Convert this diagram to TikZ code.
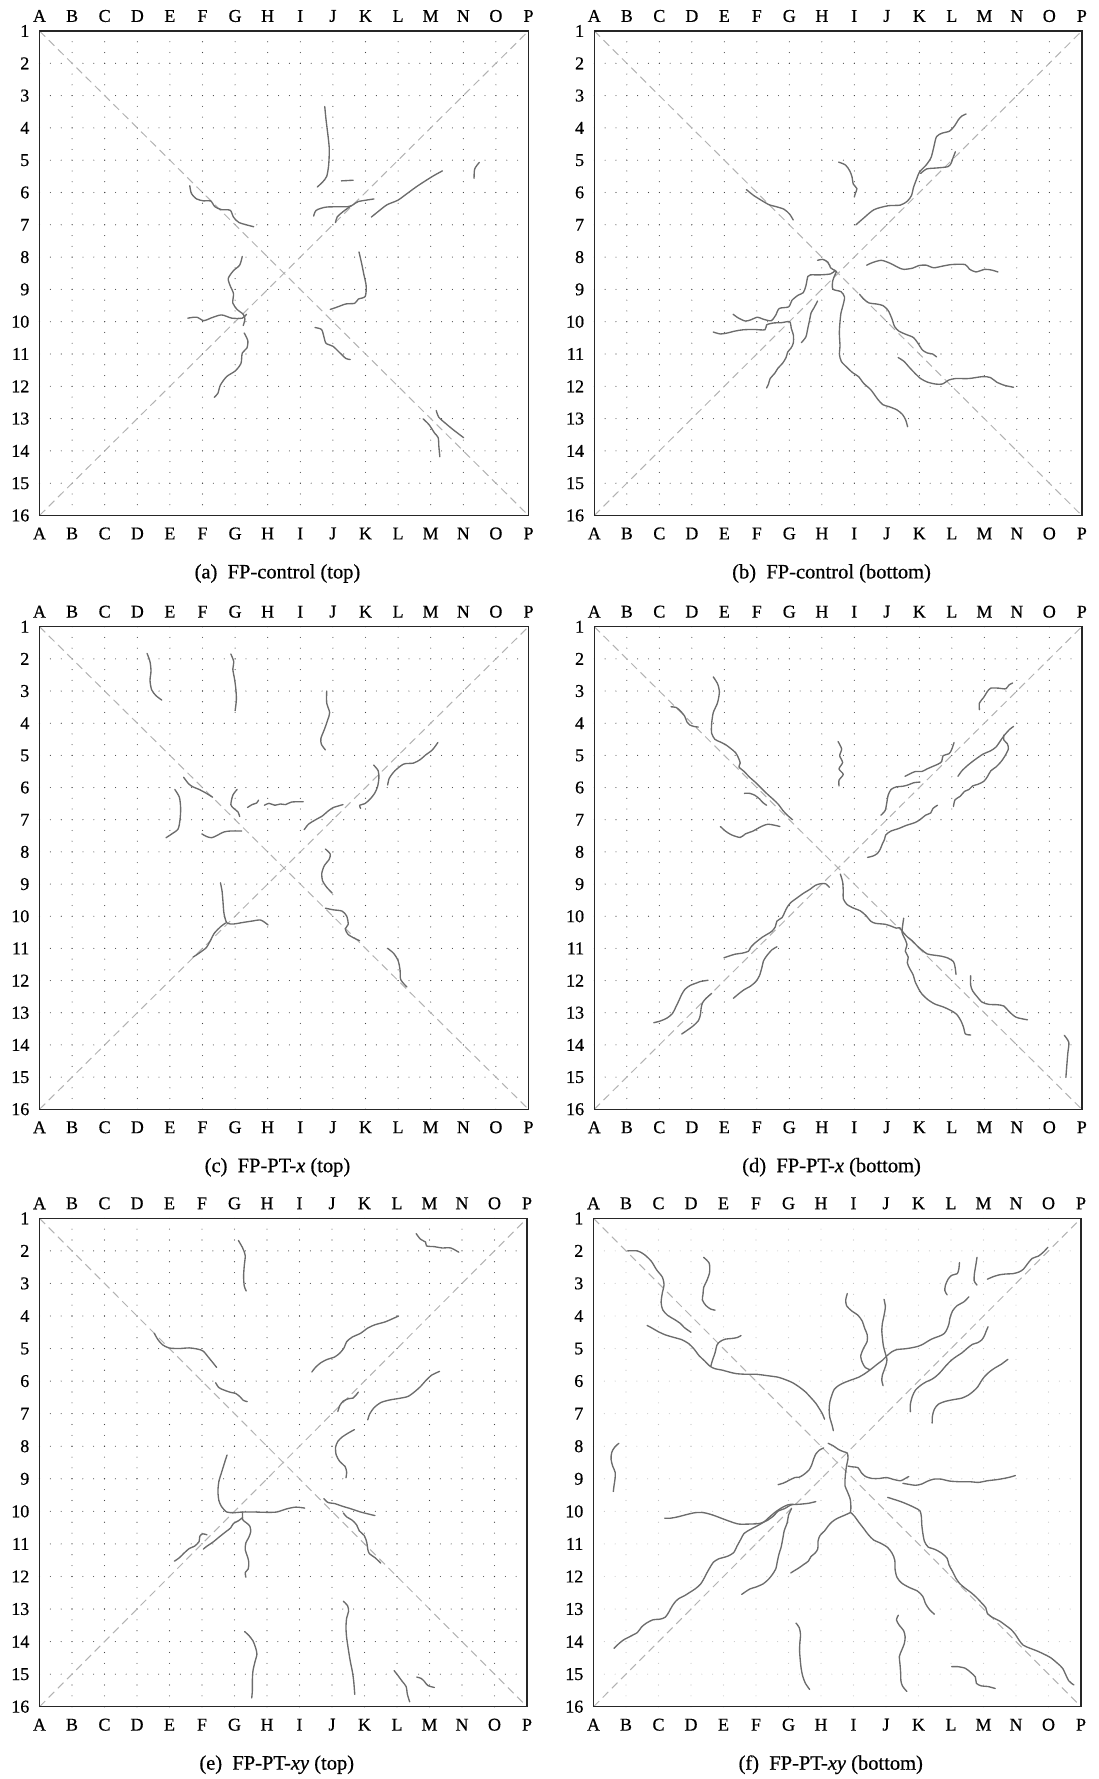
\documentclass[tikz,border=0pt]{standalone}
\usepackage{fontspec}
\setmainfont{Liberation Serif}[FakeBold=0.6]
\newfontfamily\labfont{Liberation Serif}[FakeBold=0.6]
\definecolor{crackc}{RGB}{108,108,108}
\definecolor{diagc}{RGB}{178,178,178}
\definecolor{dotc}{RGB}{70,70,70}
\definecolor{dotlight}{RGB}{195,195,195}
\tikzset{
  crack/.style={draw=crackc, line width=1.35pt, line cap=round, line join=round},
  diagline/.style={draw=diagc, line width=1pt, dash pattern=on 8pt off 5pt},
  boxline/.style={draw=black!85, line width=1.5pt},
  lab/.style={inner sep=0pt, font=\labfont\fontsize{18}{20}\selectfont},
  capt/.style={inner sep=0pt, font=\labfont\fontsize{20.5}{23}\selectfont},
}
\newcommand{\crk}[1]{\draw[crack] plot[smooth, tension=0.45] coordinates {#1};}
\newcommand{\panelbase}[4]{%
  \foreach \r in {2,...,15}{\draw[#3, line width=1.1pt, line cap=round, dash pattern=on 0pt off #1pt] (0,\r) -- (15,\r);}
  \foreach \c in {1,...,14}{\draw[#3, line width=1.1pt, line cap=round, dash pattern=on 0pt off #2pt] (\c,1) -- (\c,16);}
  \draw[diagline] (0,1) -- (15,16);
  \draw[diagline] (0,16) -- (15,1);
  \draw[boxline] (0,1) rectangle (15,16);
  \foreach \L [count=\i from 0] in {A,...,P}{
    \node[lab, yshift=15pt] at (\i,1) {\L};
    \node[lab, yshift=-18pt] at (\i,16) {\L};
  }
  \foreach \r in {1,...,16}{\node[lab, anchor=east, xshift=-10pt] at (0,\r) {\r};}
  \node[capt, yshift=-58pt] at (7.3,16) {#4};
}
\begin{document}
\begin{tikzpicture}
\useasboundingbox (0pt,0pt) rectangle (1099pt,-1779pt);

% (a)
\begin{scope}[shift={(39.5pt,1.3pt)}, x={(32.6pt,0pt)}, y={(0pt,-32.3pt)}]
\panelbase{10.8667}{10.7667}{dotc}{(a)~~FP-control (top)}
\crk{(8.75,3.34) (8.79,3.75) (8.86,4.33) (8.89,4.68) (8.87,5.15) (8.81,5.5) (8.68,5.68) (8.52,5.83)}
\crk{(9.26,5.64) (9.62,5.62)}
\crk{(13.49,5.07) (13.35,5.27) (13.33,5.56)}
\crk{(4.61,5.79) (4.66,6.03) (4.82,6.2) (5.04,6.26) (5.25,6.26) (5.38,6.44) (5.58,6.53) (5.85,6.55) (5.95,6.76) (6.12,6.93) (6.57,7.06)}
\crk{(8.41,6.73) (8.49,6.55) (8.81,6.45) (9.45,6.44) (9.62,6.38) (9.78,6.28) (10.26,6.2)}
\crk{(9.56,6.41) (9.29,6.61) (9.13,6.76) (9.08,6.93)}
\crk{(10.18,6.76) (10.4,6.58) (10.66,6.38) (10.99,6.24) (11.28,6.03) (11.55,5.83) (11.82,5.65) (12.09,5.48) (12.36,5.33)}
\crk{(6.22,7.98) (6.14,8.25) (5.95,8.42) (5.79,8.66) (5.85,8.89) (5.95,9.13) (5.93,9.42) (6.06,9.62) (6.25,9.77) (6.3,9.92) (6.25,10.12)}
\crk{(4.55,9.89) (4.82,9.86) (5.04,9.97) (5.25,9.89) (5.58,9.79) (5.9,9.89) (6.22,9.89) (6.35,9.77)}
\crk{(6.28,10.35) (6.39,10.59) (6.36,10.82) (6.22,10.97) (6.18,11.29) (6.01,11.52) (5.74,11.7) (5.55,11.96) (5.47,12.22) (5.36,12.34)}
\crk{(9.8,7.84) (9.88,8.19) (9.95,8.54) (10.02,8.89) (9.99,9.22) (9.78,9.3) (9.67,9.43) (9.4,9.45) (9.15,9.54) (8.92,9.62)}
\crk{(8.45,10.18) (8.65,10.24) (8.72,10.45) (8.79,10.67) (9.0,10.76) (9.22,10.97) (9.4,11.14) (9.53,11.17)}
\crk{(12.17,12.75) (12.25,12.96) (12.47,13.16) (12.71,13.36) (13.01,13.59)}
\crk{(11.77,13.01) (11.95,13.19) (12.12,13.45) (12.23,13.59) (12.25,13.86) (12.28,14.18)}
\end{scope}

% (b)
\begin{scope}[shift={(594.3pt,1.3pt)}, x={(32.5pt,0pt)}, y={(0pt,-32.3pt)}]
\panelbase{10.8333}{10.7667}{dotc}{(b)~~FP-control (bottom)}
\crk{(8.05,7.0) (8.29,6.79) (8.61,6.53) (9.04,6.41) (9.42,6.39) (9.64,6.26) (9.76,6.09) (9.82,5.85) (9.91,5.6) (10.01,5.36) (10.21,5.15) (10.36,4.92) (10.44,4.62) (10.53,4.27) (10.71,4.16) (10.93,4.1) (11.09,3.93) (11.2,3.75) (11.31,3.63) (11.44,3.57)}
\crk{(10.04,5.41) (10.23,5.27) (10.55,5.24) (10.88,5.2) (10.98,5.09) (11.04,4.92) (11.11,4.74)}
\crk{(7.52,5.06) (7.73,5.15) (7.86,5.33) (7.93,5.52) (7.97,5.74) (8.08,5.88) (8.03,6.03) (8.0,6.14)}
\crk{(4.68,5.91) (4.9,6.09) (5.17,6.26) (5.38,6.38) (5.6,6.44) (5.84,6.52) (6.01,6.67) (6.12,6.85)}
\crk{(4.27,9.77) (4.44,9.89) (4.65,9.98) (4.82,9.94) (5.02,9.86) (5.19,9.92) (5.44,9.97) (5.58,9.8) (5.69,9.59) (5.98,9.54) (6.08,9.34) (6.27,9.18) (6.43,9.1) (6.51,8.89) (6.57,8.6) (6.65,8.55) (6.95,8.55) (7.27,8.52) (7.41,8.42)}
\crk{(6.87,8.1) (7.03,8.07) (7.19,8.16) (7.27,8.33) (7.41,8.42) (7.45,8.45)}
\crk{(7.45,8.45) (7.34,8.72) (7.34,8.99) (7.59,9.07) (7.7,9.24) (7.65,9.5) (7.59,9.73) (7.56,10.0) (7.54,10.35) (7.56,10.76) (7.54,11.0) (7.6,11.23) (7.77,11.41) (7.95,11.58) (8.13,11.7) (8.29,11.91) (8.51,12.11) (8.72,12.4) (8.88,12.57) (9.07,12.63) (9.31,12.73) (9.48,12.87) (9.58,13.04) (9.64,13.25)}
\crk{(3.66,10.32) (3.88,10.38) (4.09,10.35) (4.33,10.29) (4.58,10.25) (4.9,10.24) (5.25,10.25) (5.3,10.1) (5.51,10.04) (5.76,10.03) (6.01,10.0) (6.06,10.2) (6.13,10.44) (6.12,10.67) (6.05,10.82) (5.95,10.94) (5.9,11.11) (5.79,11.29) (5.65,11.44) (5.55,11.6) (5.41,11.76) (5.36,11.93) (5.3,12.05)}
\crk{(6.87,9.36) (6.76,9.57) (6.67,9.73) (6.62,9.97) (6.57,10.2) (6.51,10.47) (6.37,10.65)}
\crk{(8.38,8.25) (8.56,8.17) (8.83,8.1) (9.1,8.19) (9.37,8.33) (9.53,8.38) (9.8,8.34) (9.99,8.26) (10.21,8.25) (10.44,8.33) (10.71,8.28) (11.0,8.23) (11.41,8.23) (11.54,8.37) (11.74,8.46) (12.01,8.38) (12.22,8.4) (12.42,8.46)}
\crk{(8.16,9.15) (8.29,9.3) (8.45,9.42) (8.67,9.45) (8.88,9.5) (9.04,9.65) (9.15,9.89) (9.24,10.15) (9.37,10.29) (9.58,10.39) (9.82,10.49) (9.96,10.67) (10.1,10.88) (10.25,10.97) (10.41,11.0) (10.53,11.09)}
\crk{(9.35,11.11) (9.53,11.23) (9.69,11.41) (9.85,11.58) (10.04,11.76) (10.25,11.87) (10.5,11.93) (10.71,11.93) (10.9,11.81) (11.11,11.76) (11.52,11.76) (11.95,11.7) (12.19,11.73) (12.38,11.87) (12.62,11.97) (12.9,12.03)}
\end{scope}

% (c)
\begin{scope}[shift={(39.5pt,-594.53pt)}, x={(32.6pt,0pt)}, y={(0pt,-32.17pt)}]
\panelbase{10.8667}{10.7233}{dotc}{(c)~~FP-PT-\textit{x} (top)}
\crk{(3.3,1.83) (3.39,2.09) (3.42,2.38) (3.39,2.67) (3.44,2.96) (3.57,3.14) (3.75,3.28)}
\crk{(5.87,1.85) (5.96,2.09) (5.93,2.32) (5.98,2.61) (6.02,2.91) (6.04,3.26) (6.0,3.61)}
\crk{(8.81,3.0) (8.81,3.37) (8.9,3.67) (8.84,3.9) (8.74,4.19) (8.63,4.48) (8.65,4.66) (8.77,4.83)}
\crk{(4.15,6.06) (4.29,6.3) (4.33,6.65) (4.31,7.0) (4.25,7.29) (4.06,7.44) (3.88,7.56)}
\crk{(4.42,5.68) (4.58,5.89) (4.71,5.98) (4.9,6.06) (5.12,6.18) (5.31,6.3)}
\crk{(6.06,6.06) (5.93,6.24) (5.87,6.53) (5.96,6.65) (6.09,6.76) (6.14,6.9)}
\crk{(6.38,6.62) (6.52,6.53) (6.66,6.48) (6.72,6.39)}
\crk{(6.9,6.55) (7.04,6.49) (7.22,6.55) (7.39,6.51) (7.55,6.53) (7.73,6.45) (8.09,6.44)}
\crk{(4.98,7.44) (5.12,7.52) (5.28,7.56) (5.44,7.49) (5.66,7.38) (5.87,7.35) (6.2,7.35)}
\crk{(8.12,7.31) (8.25,7.14) (8.47,7.0) (8.68,6.88) (8.84,6.74) (9.01,6.62) (9.14,6.58) (9.31,6.53)}
\crk{(10.25,5.3) (10.39,5.48) (10.41,5.71) (10.37,5.97) (10.28,6.18) (10.14,6.36) (9.98,6.5) (9.82,6.55) (9.85,6.65)}
\crk{(10.68,5.92) (10.73,5.71) (10.9,5.48) (11.17,5.27) (11.47,5.24) (11.68,5.13) (11.84,4.99) (12.05,4.83) (12.22,4.6)}
\crk{(8.77,7.91) (8.92,8.07) (8.88,8.24) (8.74,8.42) (8.66,8.66) (8.68,8.89) (8.81,9.1) (8.98,9.28)}
\crk{(5.55,8.96) (5.6,9.22) (5.63,9.57) (5.66,9.92) (5.75,10.21) (5.96,10.24) (6.2,10.2) (6.52,10.15) (6.79,10.12) (7.01,10.27)}
\crk{(5.71,10.21) (5.55,10.33) (5.36,10.53) (5.25,10.74) (5.12,10.97) (4.92,11.13) (4.71,11.27)}
\crk{(8.77,9.75) (9.01,9.8) (9.28,9.84) (9.42,9.99) (9.47,10.25) (9.38,10.39) (9.46,10.56) (9.65,10.68) (9.82,10.76)}
\crk{(10.68,11.0) (10.86,11.15) (11.0,11.38) (11.06,11.67) (11.08,11.97) (11.27,12.2)}
\end{scope}

% (d)
\begin{scope}[shift={(594.3pt,-594.53pt)}, x={(32.5pt,0pt)}, y={(0pt,-32.17pt)}]
\panelbase{10.8333}{10.7233}{dotc}{(d)~~FP-PT-\textit{x} (bottom)}
\crk{(3.66,2.56) (3.79,2.77) (3.85,3.02) (3.79,3.37) (3.66,3.67) (3.61,4.02) (3.61,4.31) (3.71,4.5) (3.87,4.58) (4.03,4.66) (4.19,4.78) (4.35,4.92) (4.44,5.09) (4.49,5.24) (4.45,5.36) (4.61,5.5) (4.78,5.68) (4.97,5.85) (5.15,6.03) (5.32,6.2) (5.51,6.37) (5.67,6.53) (5.8,6.71) (5.94,6.86) (6.1,7.0)}
\crk{(2.36,3.49) (2.52,3.51) (2.66,3.63) (2.78,3.78) (2.85,3.96) (2.93,4.05) (3.06,4.1) (3.2,4.12)}
\crk{(4.62,6.18) (4.78,6.18) (4.94,6.24) (5.08,6.35) (5.19,6.47) (5.3,6.55)}
\crk{(3.88,7.21) (4.03,7.35) (4.22,7.47) (4.49,7.55) (4.65,7.44) (4.89,7.35) (5.1,7.23) (5.35,7.14) (5.71,7.21)}
\crk{(7.5,4.57) (7.61,4.8) (7.55,5.01) (7.64,5.22) (7.53,5.42) (7.66,5.59) (7.53,5.77) (7.53,5.95)}
\crk{(11.85,3.58) (11.85,3.37) (11.98,3.2) (12.09,3.02) (12.2,2.91) (12.44,2.91) (12.66,2.93) (12.76,2.81) (12.87,2.75)}
\crk{(9.56,5.65) (9.72,5.57) (9.88,5.5) (10.08,5.5) (10.24,5.42) (10.42,5.34) (10.58,5.27) (10.69,5.19) (10.73,5.01) (10.91,4.95) (10.99,4.83) (11.07,4.6)}
\crk{(8.82,6.86) (8.95,6.71) (9.0,6.47) (9.04,6.24) (9.13,6.06) (9.29,5.98) (9.49,5.96) (9.65,5.92) (9.83,5.85) (10.02,5.83)}
\crk{(8.41,8.17) (8.57,8.13) (8.71,8.05) (8.8,7.91) (8.86,7.76) (8.93,7.61) (8.97,7.47) (9.13,7.35) (9.35,7.28) (9.59,7.18) (9.86,7.09) (10.02,7.0) (10.19,6.86) (10.35,6.79) (10.42,6.65) (10.56,6.55)}
\crk{(11.19,5.65) (11.31,5.48) (11.5,5.3) (11.69,5.15) (11.96,4.96) (12.19,4.86) (12.36,4.74) (12.5,4.54) (12.62,4.37) (12.78,4.19) (12.9,4.1)}
\crk{(11.05,6.59) (11.1,6.38) (11.26,6.27) (11.39,6.12) (11.53,6.06) (11.64,5.95) (11.8,5.9) (11.98,5.81) (12.09,5.67) (12.2,5.48) (12.36,5.36) (12.52,5.19) (12.64,5.01) (12.74,4.8) (12.71,4.64) (12.6,4.52) (12.6,4.37)}
\crk{(7.23,9.1) (7.12,8.99) (6.96,8.99) (6.8,9.04) (6.64,9.16) (6.43,9.29) (6.21,9.45) (6.05,9.57) (5.94,9.71) (5.86,9.87) (5.78,10.04) (5.62,10.15) (5.57,10.33) (5.46,10.47) (5.32,10.56) (5.17,10.65) (5.03,10.76) (4.91,10.86) (4.81,10.97) (4.74,11.09) (4.54,11.15) (4.33,11.18) (3.99,11.29)}
\crk{(5.62,10.95) (5.47,11.04) (5.32,11.21) (5.21,11.38) (5.15,11.62) (5.08,11.85) (4.97,12.03) (4.81,12.17) (4.6,12.29) (4.42,12.43) (4.28,12.55)}
\crk{(1.83,13.31) (2.02,13.26) (2.23,13.17) (2.4,13.03) (2.5,12.84) (2.59,12.65) (2.69,12.43) (2.79,12.27) (2.95,12.15) (3.13,12.08) (3.26,12.03) (3.5,11.99)}
\crk{(2.69,13.66) (2.85,13.55) (3.04,13.41) (3.2,13.25) (3.26,13.08) (3.29,12.84) (3.33,12.69) (3.43,12.56) (3.61,12.4)}
\crk{(7.57,8.69) (7.64,8.93) (7.66,9.22) (7.66,9.45) (7.77,9.63) (7.98,9.75) (8.18,9.83) (8.36,9.98) (8.5,10.15) (8.65,10.22) (8.95,10.25) (9.14,10.31) (9.29,10.37) (9.4,10.36) (9.51,10.51) (9.64,10.65) (9.78,10.76) (9.92,10.91) (10.08,11.05) (10.24,11.17) (10.45,11.21) (10.67,11.24) (10.88,11.3) (11.05,11.41) (11.1,11.58) (11.13,11.81)}
\crk{(9.52,10.06) (9.49,10.27) (9.47,10.51) (9.55,10.69) (9.62,10.88) (9.57,11.09) (9.66,11.27) (9.63,11.44) (9.7,11.62) (9.81,11.82) (9.87,12.03) (9.98,12.26) (10.09,12.43) (10.26,12.59) (10.48,12.73) (10.74,12.82) (10.99,12.94) (11.15,13.05) (11.28,13.25) (11.36,13.45) (11.42,13.66) (11.58,13.69)}
\crk{(11.58,11.85) (11.58,12.14) (11.64,12.32) (11.77,12.49) (11.93,12.67) (12.14,12.74) (12.39,12.75) (12.6,12.79) (12.76,12.96) (12.98,13.14) (13.33,13.22)}
\crk{(14.46,13.7) (14.6,13.92) (14.57,14.25) (14.54,14.62) (14.51,15.01)}
\end{scope}

% (e)
\begin{scope}[shift={(39.5pt,-1185.74pt)}, x={(32.5pt,0pt)}, y={(0pt,-32.56pt)}]
\panelbase{10.8333}{10.8533}{dotc}{(e)~~FP-PT-\textit{xy} (top)}
\crk{(6.12,1.68) (6.25,1.91) (6.33,2.14) (6.3,2.46) (6.28,2.78) (6.3,3.08) (6.36,3.23)}
\crk{(11.59,1.47) (11.72,1.64) (11.88,1.73) (11.91,1.85) (12.15,1.87) (12.38,1.91) (12.65,1.91) (12.9,2.04)}
\crk{(3.53,4.53) (3.64,4.72) (3.78,4.88) (3.98,4.98) (4.29,5.0) (4.61,4.98) (4.88,5.02) (5.04,5.08) (5.2,5.27) (5.34,5.44) (5.45,5.58)}
\crk{(5.42,6.05) (5.52,6.2) (5.69,6.28) (5.9,6.35) (6.04,6.38) (6.18,6.49) (6.27,6.59) (6.39,6.63)}
\crk{(8.38,5.72) (8.49,5.58) (8.65,5.44) (8.86,5.33) (9.08,5.26) (9.24,5.14) (9.37,4.98) (9.45,4.79) (9.62,4.65) (9.88,4.53) (10.1,4.37) (10.32,4.27) (10.64,4.18) (10.85,4.09) (11.05,4.0)}
\crk{(9.18,6.93) (9.24,6.75) (9.35,6.61) (9.51,6.54) (9.65,6.52) (9.73,6.44) (9.81,6.34)}
\crk{(10.1,7.19) (10.16,7.01) (10.29,6.82) (10.5,6.66) (10.77,6.58) (11.07,6.53) (11.34,6.47) (11.55,6.32) (11.72,6.17) (11.88,5.99) (12.06,5.82) (12.31,5.7)}
\crk{(9.69,7.49) (9.51,7.59) (9.32,7.71) (9.18,7.85) (9.11,8.03) (9.13,8.27) (9.24,8.47) (9.4,8.62) (9.45,8.79) (9.43,8.97)}
\crk{(5.77,8.27) (5.69,8.52) (5.6,8.81) (5.52,9.08) (5.49,9.38) (5.52,9.67) (5.6,9.85) (5.76,10.02) (5.99,10.04) (6.26,10.02) (6.6,10.02) (6.98,10.03) (7.3,10.02) (7.62,9.92) (7.89,9.87) (8.16,9.9)}
\crk{(6.25,10.02) (6.25,10.25) (6.35,10.34) (6.47,10.45) (6.5,10.62) (6.44,10.8) (6.35,10.97) (6.33,11.18) (6.4,11.39) (6.44,11.56) (6.42,11.77) (6.33,11.88) (6.35,12.02)}
\crk{(6.25,10.19) (6.12,10.29) (5.97,10.37) (5.88,10.51) (5.74,10.62) (5.55,10.77) (5.33,10.95) (5.15,11.07) (5.04,11.16)}
\crk{(4.15,11.53) (4.31,11.42) (4.45,11.28) (4.61,11.14) (4.77,11.07) (4.91,10.93) (4.93,10.77) (5.02,10.69) (5.15,10.72)}
\crk{(8.75,9.61) (8.88,9.73) (9.08,9.76) (9.31,9.84) (9.58,9.92) (9.88,10.02) (10.32,10.13)}
\crk{(9.35,10.05) (9.45,10.17) (9.62,10.27) (9.76,10.42) (9.84,10.6) (9.99,10.74) (10.07,10.95) (10.1,11.16) (10.15,11.3) (10.32,11.42) (10.5,11.59)}
\crk{(9.35,12.76) (9.48,12.9) (9.51,13.07) (9.45,13.28) (9.43,13.57) (9.45,13.87) (9.5,14.22) (9.56,14.59) (9.63,14.94) (9.67,15.24) (9.7,15.62)}
\crk{(6.31,13.69) (6.44,13.81) (6.57,13.98) (6.65,14.19) (6.69,14.39) (6.63,14.62) (6.57,14.89) (6.55,15.17) (6.55,15.5) (6.53,15.73)}
\crk{(10.91,14.89) (11.02,15.03) (11.16,15.22) (11.28,15.38) (11.32,15.62) (11.39,15.85)}
\crk{(11.61,15.09) (11.74,15.13) (11.84,15.22) (11.95,15.35) (12.15,15.41)}
\end{scope}

% (f)
\begin{scope}[shift={(593.5pt,-1185.74pt)}, x={(32.5pt,0pt)}, y={(0pt,-32.56pt)}]
\panelbase{10.8333}{10.8533}{dotlight}{(f)~~FP-PT-\textit{xy} (bottom)}
\crk{(1.05,2.0) (1.35,2.0) (1.56,2.11) (1.78,2.32) (1.94,2.58) (2.12,2.81) (2.17,3.05) (2.12,3.28) (2.08,3.58) (2.13,3.81) (2.28,3.98) (2.48,4.1) (2.66,4.22) (2.8,4.36) (3.0,4.5)}
\crk{(3.39,2.2) (3.56,2.38) (3.57,2.67) (3.48,2.93) (3.39,3.12) (3.37,3.33) (3.35,3.51) (3.46,3.68) (3.61,3.79) (3.74,3.82)}
\crk{(1.65,4.29) (1.8,4.37) (1.99,4.48) (2.21,4.58) (2.48,4.66) (2.72,4.73) (2.93,4.85) (3.09,5.01) (3.25,5.22) (3.42,5.38) (3.58,5.54) (3.74,5.62) (3.95,5.66) (4.17,5.72) (4.39,5.77) (4.69,5.79) (5.01,5.79) (5.33,5.83) (5.68,5.88) (5.89,5.95) (6.11,6.04) (6.33,6.18) (6.52,6.33) (6.69,6.51) (6.84,6.68) (6.95,6.85) (7.04,7.0) (7.11,7.17)}
\crk{(3.61,5.54) (3.66,5.36) (3.74,5.13) (3.8,4.89) (3.9,4.78) (4.06,4.71) (4.26,4.69) (4.43,4.66) (4.54,4.6)}
\crk{(0.78,7.91) (0.65,8.03) (0.56,8.19) (0.54,8.4) (0.59,8.61) (0.67,8.81) (0.66,9.02) (0.63,9.22) (0.61,9.39)}
\crk{(7.81,3.31) (7.76,3.51) (7.79,3.69) (7.94,3.84) (8.14,3.98) (8.27,4.16) (8.34,4.37) (8.42,4.57) (8.42,4.78) (8.3,5.01) (8.22,5.24) (8.28,5.45) (8.37,5.59) (8.51,5.65)}
\crk{(8.94,3.49) (8.98,3.72) (8.94,3.98) (8.89,4.22) (8.87,4.45) (8.89,4.68) (8.92,4.92) (8.98,5.15) (9.03,5.33) (9.0,5.5) (8.94,5.67) (8.89,5.81) (8.87,5.97) (8.91,6.14)}
\crk{(7.38,7.52) (7.34,7.35) (7.27,7.11) (7.25,6.88) (7.27,6.65) (7.34,6.41) (7.41,6.25) (7.55,6.13) (7.73,6.04) (7.94,5.96) (8.16,5.88) (8.35,5.77) (8.53,5.64) (8.73,5.48) (8.89,5.36) (9.03,5.22) (9.18,5.1) (9.34,5.03) (9.56,5.01) (9.77,4.98) (9.99,4.93) (10.15,4.86) (10.31,4.76) (10.47,4.68) (10.64,4.62) (10.79,4.54) (10.88,4.4) (10.94,4.23) (10.97,4.05) (11.05,3.84) (11.19,3.68) (11.39,3.57) (11.55,3.41)}
\crk{(11.26,2.36) (11.24,2.56) (11.19,2.7) (11.02,2.75) (10.91,2.87) (10.83,3.05) (10.81,3.22) (10.88,3.35)}
\crk{(11.8,2.2) (11.76,2.46) (11.72,2.7) (11.71,2.91) (11.76,3.0) (11.8,3.05)}
\crk{(12.12,2.87) (12.28,2.8) (12.47,2.74) (12.68,2.71) (12.9,2.7) (13.09,2.65) (13.23,2.56) (13.36,2.39) (13.5,2.23) (13.69,2.16) (13.85,2.03) (13.98,1.89)}
\crk{(9.75,6.94) (9.75,6.71) (9.81,6.47) (9.91,6.27) (10.08,6.12) (10.24,6.02) (10.4,5.95) (10.53,5.86) (10.64,5.76) (10.74,5.65) (10.85,5.52) (11.01,5.36) (11.17,5.24) (11.34,5.13) (11.5,4.99) (11.66,4.87) (11.82,4.82) (11.95,4.73) (12.03,4.6) (12.08,4.47) (12.14,4.33)}
\crk{(10.42,7.29) (10.43,7.06) (10.49,6.86) (10.61,6.71) (10.83,6.62) (11.07,6.57) (11.34,6.52) (11.55,6.42) (11.7,6.3) (11.82,6.18) (11.93,6.0) (12.04,5.85) (12.19,5.71) (12.36,5.59) (12.55,5.48) (12.75,5.33)}
\crk{(5.68,9.18) (5.85,9.13) (6.03,9.04) (6.2,8.96) (6.33,8.95) (6.47,8.87) (6.63,8.73) (6.71,8.58) (6.77,8.4) (6.84,8.24) (6.95,8.12) (7.08,8.05)}
\crk{(7.22,7.91) (7.38,7.99) (7.54,8.1) (7.7,8.17) (7.81,8.21) (7.83,8.38) (7.79,8.58) (7.76,8.78) (7.74,9.01) (7.74,9.22) (7.81,9.39) (7.9,9.63) (7.92,9.9) (7.9,10.04)}
\crk{(7.83,8.61) (7.94,8.63) (8.14,8.66) (8.24,8.81) (8.37,8.93) (8.57,8.99) (8.8,8.99) (9.02,8.96) (9.23,9.02) (9.45,9.06) (9.59,8.99) (9.7,8.93)}
\crk{(9.52,9.14) (9.7,9.17) (9.91,9.2) (10.1,9.16) (10.26,9.08) (10.47,9.01) (10.69,9.01) (10.96,9.07) (11.26,9.09) (11.58,9.09) (11.85,9.11) (12.12,9.06) (12.45,9.02) (12.77,8.96) (12.98,8.9)}
\crk{(2.19,10.21) (2.37,10.21) (2.59,10.17) (2.86,10.1) (3.13,10.04) (3.39,10.04) (3.66,10.11) (3.93,10.21) (4.2,10.31) (4.47,10.39) (4.8,10.39) (5.12,10.37) (5.36,10.27) (5.55,10.13) (5.68,9.99) (5.87,9.92) (6.09,9.8) (6.36,9.78) (6.63,9.75) (6.84,9.7)}
\crk{(6.14,9.78) (5.98,9.8) (5.79,9.89) (5.61,10.01) (5.44,10.15) (5.25,10.32) (5.03,10.45) (4.82,10.56) (4.63,10.68) (4.53,10.86) (4.42,11.06) (4.31,11.27) (4.12,11.38) (3.85,11.46) (3.69,11.56) (3.58,11.73) (3.5,11.87) (3.39,12.08) (3.29,12.24) (3.13,12.38) (2.96,12.49) (2.8,12.59) (2.64,12.67) (2.53,12.76) (2.42,12.91) (2.32,13.09) (2.21,13.25) (2.05,13.31) (1.83,13.33) (1.63,13.43) (1.48,13.55) (1.35,13.72) (1.13,13.84) (0.92,13.95) (0.75,14.09) (0.63,14.21)}
\crk{(6.09,9.92) (6.0,10.12) (5.96,10.35) (5.87,10.59) (5.82,10.86) (5.77,11.11) (5.71,11.3) (5.66,11.52) (5.61,11.76) (5.51,11.93) (5.39,12.08) (5.23,12.22) (5.01,12.32) (4.82,12.38) (4.69,12.46) (4.56,12.55)}
\crk{(7.9,10.04) (7.7,10.13) (7.49,10.22) (7.33,10.33) (7.22,10.45) (7.11,10.6) (6.97,10.74) (6.91,10.91) (6.9,11.15) (6.82,11.28) (6.69,11.39) (6.61,11.53) (6.47,11.63) (6.33,11.73) (6.2,11.81) (6.07,11.89)}
\crk{(7.92,10.04) (8.03,10.15) (8.16,10.33) (8.3,10.51) (8.46,10.72) (8.62,10.88) (8.84,10.98) (9.05,11.11) (9.19,11.29) (9.27,11.5) (9.28,11.79) (9.34,12.03) (9.48,12.2) (9.7,12.33) (9.97,12.45) (10.13,12.61) (10.22,12.84) (10.34,13.02) (10.49,13.16)}
\crk{(9.05,9.57) (9.27,9.64) (9.48,9.71) (9.7,9.8) (9.91,9.9) (10.05,9.99) (10.09,10.18) (10.1,10.41) (10.13,10.65) (10.18,10.91) (10.29,11.09) (10.51,11.17) (10.72,11.29) (10.88,11.44) (10.94,11.65) (11.05,11.85) (11.15,12.05) (11.26,12.21) (11.42,12.35) (11.61,12.49) (11.77,12.63) (11.93,12.8) (12.07,12.96) (12.12,13.14) (12.28,13.26) (12.5,13.37) (12.68,13.5) (12.85,13.63) (12.98,13.78) (13.09,13.95) (13.22,14.11) (13.42,14.2) (13.63,14.28) (13.85,14.38) (14.06,14.49) (14.28,14.67) (14.44,14.83) (14.62,15.2) (14.78,15.33)}
\crk{(6.23,13.43) (6.33,13.57) (6.37,13.78) (6.35,14.04) (6.34,14.27) (6.36,14.55) (6.39,14.83) (6.44,15.07) (6.52,15.28) (6.65,15.47)}
\crk{(9.38,13.19) (9.32,13.33) (9.41,13.5) (9.54,13.66) (9.59,13.86) (9.56,14.07) (9.48,14.27) (9.41,14.46) (9.43,14.69) (9.45,14.95) (9.46,15.21) (9.51,15.37) (9.64,15.53)}
\crk{(11.02,14.77) (11.21,14.77) (11.44,14.82) (11.61,14.95) (11.75,15.09) (11.78,15.28) (11.93,15.36) (12.14,15.38) (12.36,15.44)}
\end{scope}
\end{tikzpicture}
\end{document}
